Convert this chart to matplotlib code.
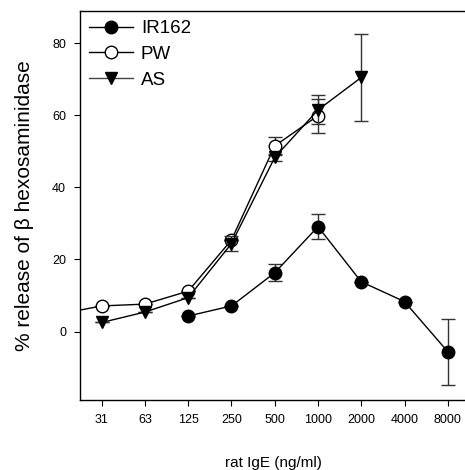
import numpy as np
import matplotlib.pyplot as plt
from matplotlib.lines import Line2D

plt.rcParams.update({
    "font.family": ["Liberation Sans", "DejaVu Sans"],
    "font.size": 9,
    "axes.linewidth": 1.0,
    "xtick.major.size": 4,
    "ytick.major.size": 4,
})

# rat IgE concentrations (ng/ml)
conc = [31.25, 62.5, 125, 250, 500, 1000, 2000, 4000, 8000]
tick_labels = ["31", "63", "125", "250", "500", "1000", "2000", "4000", "8000"]

ir162_x = [125, 250, 500, 1000, 2000, 4000, 8000]
ir162_y = [4.3, 7.1, 16.3, 29.1, 13.8, 8.3, -5.6]
ir162_err = [0, 0, 2.3, 3.5, 0, 0, 9.2]

pw_x = [15.625, 31.25, 62.5, 125, 250, 500, 1000]
pw_y = [4.8, 7.1, 7.6, 11.2, 25.4, 51.5, 59.9]
pw_err = [0, 0, 0, 0, 0, 2.5, 4.7]

as_x = [31.25, 62.5, 125, 250, 500, 1000, 2000]
as_y = [2.5, 5.4, 9.4, 24.4, 48.3, 61.5, 70.5]
as_err = [0, 0, 0, 2.0, 1.0, 4.0, 12.0]

fig = plt.figure(figsize=(4.65, 4.7), dpi=100)
ax = fig.add_axes([0.172, 0.149, 0.83, 0.828])

common = dict(color="black", lw=1.0, ms=9, capsize=5, elinewidth=1.0,
              ecolor="#333333", capthick=1.0)
ax.errorbar(ir162_x, ir162_y, yerr=ir162_err, marker="o", mfc="black",
            mec="black", zorder=3, **common)
ax.errorbar(pw_x, pw_y, yerr=pw_err, marker="o", mfc="white",
            mec="black", zorder=4, **common)
ax.errorbar(as_x, as_y, yerr=as_err, marker="v", mfc="black",
            mec="black", zorder=5, **common)

handles = [
    Line2D([], [], color="black", lw=1.0, marker="o", ms=9, mfc="black", mec="black"),
    Line2D([], [], color="black", lw=1.0, marker="o", ms=9, mfc="white", mec="black"),
    Line2D([], [], color="#444444", lw=1.0, marker="v", ms=9, mfc="black", mec="black"),
]
ax.legend(handles, ["IR162", "PW", "AS"], loc="upper left", fontsize=13.5,
          frameon=False, handlelength=2.3, handletextpad=0.45,
          labelspacing=0.45, borderaxespad=0.0,
          bbox_to_anchor=(0.005, 0.995))

ax.set_xscale("log", base=2)
ax.set_xlim(31.25 * 2 ** -0.502, 8000 * 2 ** 0.42)
ax.set_xticks(conc)
ax.set_xticklabels(tick_labels)
ax.minorticks_off()
ax.set_ylim(-19, 89)
ax.set_yticks([0, 20, 40, 60, 80])

ax.spines["right"].set_visible(False)
ax.tick_params(axis="both", labelsize=9, pad=6)

ax.set_xlabel("rat IgE (ng/ml)", fontsize=11, labelpad=22)
ax.set_ylabel("% release of \u03b2 hexosaminidase", fontsize=15, labelpad=13)

fig.savefig("out.png", dpi=100)
